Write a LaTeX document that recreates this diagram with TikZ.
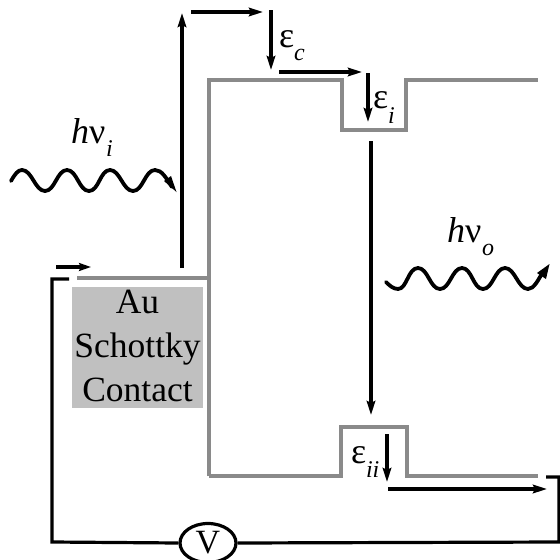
\documentclass[tikz,border=0pt]{standalone}
\usepackage{fontspec}
\setmainfont{Liberation Serif}
\usetikzlibrary{arrows.meta,shapes.geometric}
\tikzset{
  band/.style={draw=bandgray,line width=3.2pt,line join=miter,line cap=butt},
  flow/.style={draw=black,line width=3.2pt,-{Stealth[length=14pt,width=8.5pt,inset=2pt]}},
  smallflow/.style={draw=black,line width=3.2pt,-{Stealth[length=12pt,width=8pt,inset=2pt]}},
  wire/.style={draw=black,line width=3.2pt,line join=miter},
  wavy/.style={draw=black,line width=3.8pt,line join=round,line cap=round},
  lbl/.style={inner sep=0pt,outer sep=0pt,anchor=base},
  boxtext/.style={inner sep=0pt,anchor=base,font=\fontsize{35.5}{36}\selectfont},
}
\definecolor{bandgray}{HTML}{8A8A8A}
\definecolor{boxgray}{HTML}{C0C0C0}
\begin{document}
\begin{tikzpicture}[x=1pt,y=-1pt]
\useasboundingbox (0,0) rectangle (560,560);
% Schottky box
\fill[boxgray] (72,287) rectangle (203,408);
\node[boxtext] (au) at (137.5,313) {Au};
\node[boxtext] (sch) at (137.5,357) {Schottky};
\node[boxtext] (con) at (137.5,401) {Contact};
% bands
\draw[band] (77,278) -- (209,278);
\draw[band] (209,476) -- (209,80) -- (342,80) -- (342,130) -- (406,130) -- (406,80) -- (538,80);
\draw[band] (209,476) -- (341,476) -- (341,427) -- (407,427) -- (407,476) -- (538,476);
% named points for flows
\coordinate (a1) at (182,268); \coordinate (a2) at (182,13);
\coordinate (b1) at (191,12); \coordinate (b2) at (263,12);
\coordinate (c1) at (271,10); \coordinate (c2) at (271,70);
\coordinate (d1) at (279,72); \coordinate (d2) at (362,72);
\coordinate (e1) at (368,73); \coordinate (e2) at (368,122);
\coordinate (f1) at (371,141); \coordinate (f2) at (371,415);
\coordinate (g1) at (387,434); \coordinate (g2) at (387,482);
\coordinate (h1) at (388,489); \coordinate (h2) at (547,489);
\coordinate (k1) at (56,267); \coordinate (k2) at (91,267);
\draw[flow] (a1) -- (a2);
\draw[flow] (b1) -- (b2);
\draw[flow] (c1) -- (c2);
\draw[flow] (d1) -- (d2);
\draw[flow] (e1) -- (e2);
\draw[flow] (f1) -- (f2);
\draw[flow] (g1) -- (g2);
\draw[flow] (h1) -- (h2);
\draw[smallflow] (k1) -- (k2);
% circuit
\node[draw=black,line width=3.2pt,ellipse,minimum width=56pt,minimum height=39pt,inner sep=0pt,font=\fontsize{34}{34}\selectfont] (v) at (208,543) {V};
\coordinate (l1) at (69,279); \coordinate (r1) at (546,477);
\draw[wire] (l1) -- (52,279) -- (52,542) -- (v.west);
\draw[wire] (r1) -- (559,477) -- (559,542) -- (v.east);
% waves
\draw[wavy] (11,181) .. controls (15,174) and (18,170) .. (22,170)
  .. controls (32,170) and (35,191) .. (45,191)
  .. controls (55,191) and (57,170) .. (67,170)
  .. controls (77,170) and (79,191) .. (89,191)
  .. controls (99,191) and (100,170) .. (110,170)
  .. controls (120,170) and (123,191) .. (133,191)
  .. controls (143,191) and (145,170) .. (155,170)
  .. controls (162,170) and (166,178) .. (172,187);
\fill (176.5,192) -- (164,181) -- (171,176) -- cycle;
\draw[wavy] (386,282) .. controls (389,285) and (393,289) .. (398,289)
  .. controls (407,289) and (408,268) .. (418,268)
  .. controls (428,268) and (430,289) .. (440,289)
  .. controls (450,289) and (452,268) .. (462,268)
  .. controls (472,268) and (473,289) .. (483,289)
  .. controls (493,289) and (495,268) .. (505,268)
  .. controls (515,268) and (518,289) .. (528,289)
  .. controls (534,289) and (538,280) .. (543,272);
\fill (549.5,264) -- (546,279) -- (537,273) -- cycle;
% labels
\node[lbl,anchor=base west,font=\fontsize{36}{36}\selectfont] (hi) at (71,143) {\textit{h}ν};
\node[lbl,anchor=base west,font=\fontsize{24}{24}\itshape] (hisub) at (106,156) {i};
\node[lbl,anchor=base west,font=\fontsize{36}{36}\selectfont] (ho) at (447,242) {\textit{h}ν};
\node[lbl,anchor=base west,font=\fontsize{24}{24}\itshape] (hosub) at (482,255) {o};
\node[lbl,anchor=base west,font=\fontsize{36}{36}\selectfont] (ec) at (279,47) {ε};
\node[lbl,anchor=base west,font=\fontsize{24}{24}\itshape] (ecsub) at (294,60) {c};
\node[lbl,anchor=base west,font=\fontsize{36}{36}\selectfont] (ei) at (373,108) {ε};
\node[lbl,anchor=base west,font=\fontsize{24}{24}\itshape] (eisub) at (388,123) {i};
\node[lbl,anchor=base west,font=\fontsize{36}{36}\selectfont] (eii) at (351,463) {ε};
\node[lbl,anchor=base west,font=\fontsize{24}{24}\itshape] (eiisub) at (366,477) {ii};
\end{tikzpicture}
\end{document}
